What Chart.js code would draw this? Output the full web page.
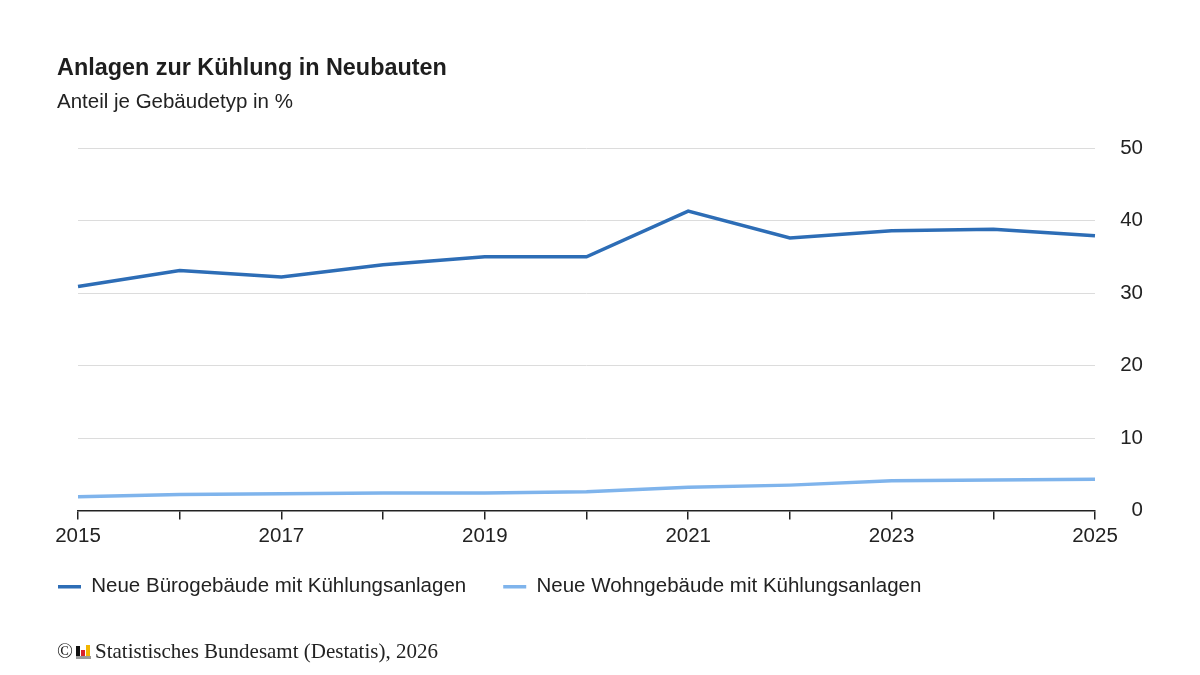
<!DOCTYPE html>
<html lang="de">
<head>
  <meta charset="UTF-8">
  <title>Anlagen zur Kühlung in Neubauten</title>
  <script src="https://cdn.jsdelivr.net/npm/chart.js"></script>
  <style>
    html, body { margin: 0; padding: 0; background: #fff; }
    body { width: 1200px; height: 675px; position: relative; overflow: hidden; font-family: "Liberation Sans", Arial, sans-serif; color: #222; }
    #wrap { position: absolute; left: 0; top: 0; width: 1200px; height: 675px; }
    h1 { position: absolute; left: 57px; top: 56px; margin: 0; font-size: 23.4px; line-height: 23px; font-weight: bold; color: #1e1e1e; }
    .sub { position: absolute; left: 57px; top: 91px; margin: 0; font-size: 20.5px; line-height: 20.5px; color: #222; }
    .foot { position: absolute; left: 57px; top: 641px; font-family: "Liberation Serif", "Times New Roman", serif; font-size: 21px; line-height: 21px; color: #222; white-space: nowrap; }
    .logo { display: inline-block; position: relative; width: 15px; height: 15px; margin: 0 4px 0 3px; vertical-align: -1px; }
    .logo span { position: absolute; bottom: 3px; width: 4px; }
    .logo .b1 { left: 0; height: 10px; background: #111; }
    .logo .b2 { left: 5px; height: 6px; background: #d9232a; }
    .logo .b3 { left: 10px; height: 11px; background: #f2b600; }
    .logo .ul { left: 0; bottom: 0; width: 15px; height: 3px; background: #9a9a9a; }
  </style>
</head>
<body>
  <div id="wrap"><canvas id="chartCanvas"></canvas></div>
  <h1>Anlagen zur Kühlung in Neubauten</h1>
  <p class="sub">Anteil je Gebäudetyp in %</p>
  <div class="foot">©<span class="logo"><span class="b1"></span><span class="b2"></span><span class="b3"></span><span class="ul"></span></span>Statistisches Bundesamt (Destatis), 2026</div>

  <script>
    // Daten
    const years = ["2015", "2016", "2017", "2018", "2019", "2020", "2021", "2022", "2023", "2024", "2025"];
    const bueroValues = [30.9, 33.1, 32.2, 33.9, 35.0, 35.0, 41.3, 37.6, 38.6, 38.8, 37.9];
    const wohnValues = [1.9, 2.2, 2.3, 2.4, 2.4, 2.6, 3.2, 3.5, 4.1, 4.2, 4.3];
    const seriesNames = ["Neue Bürogebäude mit Kühlungsanlagen", "Neue Wohngebäude mit Kühlungsanlagen"];
    const yTicks = [0, 10, 20, 30, 40, 50];

    const textColor = "#222";
    const font = { family: "'Liberation Sans', Arial, sans-serif", size: 20.5 };

    // Legende etwas näher an die Achse rücken
    const legendShift = {
      id: "legendShift",
      afterLayout(chart) {
        chart.legend.top -= 25;
        chart.legend.bottom -= 25;
      }
    };

    const ctx = document.getElementById("chartCanvas").getContext("2d");
    new Chart(ctx, {
      type: "line",
      data: {
        labels: years,
        datasets: [
          { label: seriesNames[0], data: bueroValues, borderColor: "#2d6db6", backgroundColor: "#2d6db6", borderWidth: 3.5, pointRadius: 0, tension: 0 },
          { label: seriesNames[1], data: wohnValues, borderColor: "#7fb4ec", backgroundColor: "#7fb4ec", borderWidth: 3.5, pointRadius: 0, tension: 0 }
        ]
      },
      plugins: [legendShift],
      options: {
        responsive: true,
        maintainAspectRatio: false,
        animation: false,
        layout: { padding: { left: 21, right: 57, top: 148, bottom: 43 } },
        plugins: {
          tooltip: { enabled: false },
          legend: {
            position: "bottom",
            align: "start",
            labels: {
              usePointStyle: true,
              pointStyle: "line",
              pointStyleWidth: 23,
              padding: 37,
              color: textColor,
              font: font
            }
          }
        },
        scales: {
          x: {
            offset: false,
            grid: { display: true, drawOnChartArea: false, drawTicks: true, tickLength: 9, color: "#222", lineWidth: 1.5 },
            border: { display: true, color: "#222", width: 1.5 },
            ticks: {
              autoSkip: false,
              maxRotation: 0,
              padding: 5,
              color: textColor,
              font: font,
              callback: (v, i) => (i % 2 === 0 ? years[i] : "")
            },
            afterFit: (scale) => { scale.paddingLeft = 78; scale.height = 54; }
          },
          y: {
            position: "right",
            min: 0,
            max: 50,
            afterBuildTicks: (scale) => { scale.ticks = yTicks.map(v => ({ value: v })); },
            grid: { color: "#dcdcdc", lineWidth: 1, drawTicks: false },
            border: { display: false },
            ticks: { crossAlign: "far", color: textColor, font: font, padding: 8 },
            afterFit: (scale) => { scale.width = 48; }
          }
        }
      }
    });
  </script>
</body>
</html>
